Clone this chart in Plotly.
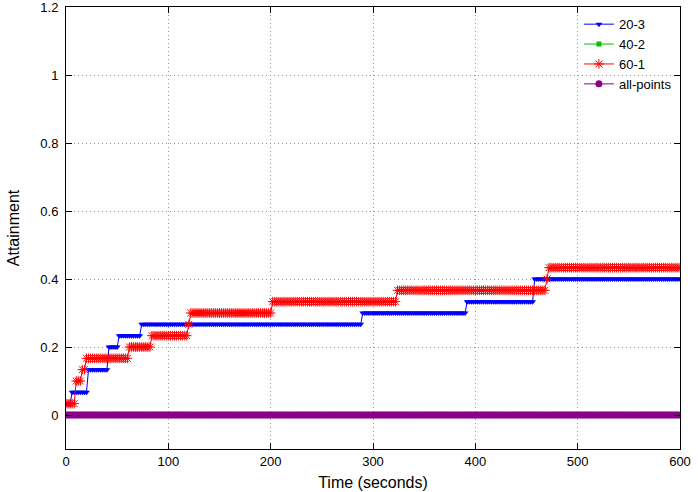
import numpy as np
import plotly.graph_objects as go

# Step breakpoints (time in seconds, attainment)
blue_t = [0, 6, 22, 41, 51, 73, 289, 392, 457]
blue_v = [0.0333, 0.0667, 0.1333, 0.2, 0.2333, 0.2667, 0.3, 0.3333, 0.4]

red_t = [0, 9, 16, 19, 61, 84, 119, 121, 201, 323, 469, 472]
red_v = [0.0333, 0.1, 0.1333, 0.1667, 0.2, 0.2333, 0.2667, 0.3, 0.3333, 0.3667, 0.4, 0.4333]

green_t = [0]
green_v = [0.0]

purple_t = [0]
purple_v = [0.0]

sample_times = np.arange(0, 601, 2)

x_ticks = [0, 100, 200, 300, 400, 500, 600]
y_ticks = [0, 0.2, 0.4, 0.6, 0.8, 1.0, 1.2]
y_tick_text = ["0", "0.2", "0.4", "0.6", "0.8", "1", "1.2"]


def step_series(bt, bv, times):
    idx = np.searchsorted(np.array(bt), times, side="right") - 1
    return np.array(bv)[idx]


fig = go.Figure()

fig.add_trace(go.Scatter(
    x=sample_times, y=step_series(blue_t, blue_v, sample_times),
    name="20-3", mode="lines+markers",
    line=dict(color="#0000ff", width=1),
    marker=dict(symbol="triangle-down", size=6, color="#0000ff"),
))
fig.add_trace(go.Scatter(
    x=sample_times, y=step_series(green_t, green_v, sample_times),
    name="40-2", mode="lines+markers",
    line=dict(color="#00c000", width=1),
    marker=dict(symbol="square", size=5, color="#00c000"),
))
fig.add_trace(go.Scatter(
    x=sample_times, y=step_series(red_t, red_v, sample_times),
    name="60-1", mode="lines+markers",
    line=dict(color="#ff0000", width=1),
    marker=dict(symbol="asterisk-open", size=8, line=dict(color="#ff0000", width=1)),
))
fig.add_trace(go.Scatter(
    x=sample_times, y=step_series(purple_t, purple_v, sample_times),
    name="all-points", mode="lines+markers",
    line=dict(color="#8b008b", width=1),
    marker=dict(symbol="circle", size=7, color="#8b008b"),
))

axis_common = dict(
    showline=True, linecolor="black", linewidth=1, mirror="allticks",
    ticks="inside", ticklen=6, tickcolor="black",
    showgrid=True, gridcolor="#999999", griddash="1px,3px", gridwidth=1,
    zeroline=False, ticklabeloverflow="allow", automargin=False,
    tickfont=dict(family="Liberation Sans, Arial, sans-serif", size=13, color="black"),
)

fig.update_layout(
    width=698, height=492,
    margin=dict(l=66, r=18, t=7, b=43),
    paper_bgcolor="white", plot_bgcolor="white",
    font=dict(family="Liberation Sans, Arial, sans-serif", size=13, color="black"),
    xaxis=dict(range=[0, 600], tickvals=x_ticks,
               title=dict(text="Time (seconds)", standoff=9), **axis_common),
    yaxis=dict(range=[-0.1, 1.2001], tickvals=y_ticks, ticktext=y_tick_text,
               ticklabelstandoff=4,
               title=dict(text="Attainment", standoff=16), **axis_common),
    legend=dict(x=0.995, y=0.995, xanchor="right", yanchor="top",
                bgcolor="rgba(0,0,0,0)", font=dict(size=13),
                tracegroupgap=0),
    showlegend=True,
)

fig.write_html("out.html")
